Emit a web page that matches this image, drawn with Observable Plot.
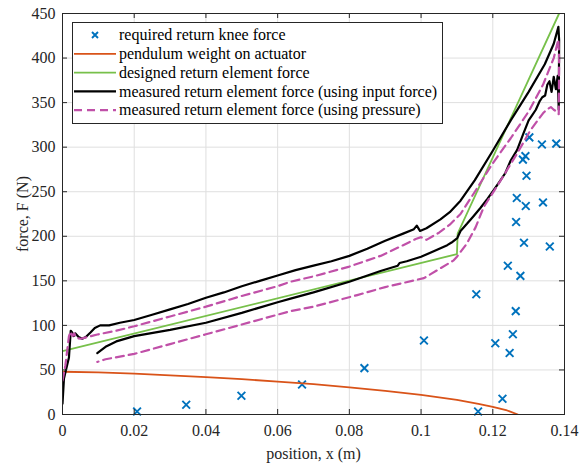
<!DOCTYPE html>
<html>
<head>
<meta charset="utf-8">
<script src="https://cdn.jsdelivr.net/npm/d3@7"></script>
<script src="https://cdn.jsdelivr.net/npm/@observablehq/plot@0.6"></script>
<style>
  body { margin: 0; background: #fff; }
  #wrap { position: relative; width: 579px; height: 466px; font-family: "Liberation Serif", "Times New Roman", serif; }
  #legend { position: absolute; left: 72px; top: 22px; }
</style>
</head>
<body>
<div id="wrap"><div id="chart"></div><div id="legend"></div></div>
<script>
// ---------- data ----------
const xTicks = [0, 0.02, 0.04, 0.06, 0.08, 0.1, 0.12, 0.14];
const yTicks = [0, 50, 100, 150, 200, 250, 300, 350, 400, 450];

const seriesNames = [
  "required return knee force",
  "pendulum weight on actuator",
  "designed return element force",
  "measured return element force (using input force)",
  "measured return element force (using pressure)"
];
const seriesColors = ["#0072BD", "#D95319", "#77C04A", "#000000", "#C050A8"];

// required return knee force (markers)
const reqX = [0.0208, 0.0345, 0.0499, 0.0668, 0.0842, 0.1008, 0.1154, 0.1159, 0.1207, 0.1227, 0.1242, 0.1247, 0.1256, 0.1264, 0.1277, 0.1287, 0.1359, 0.1302, 0.1337, 0.1377, 0.1291, 0.1284, 0.1294, 0.1267, 0.1292, 0.1340, 0.1265];
const reqF = [3.4, 11, 21, 33.7, 52, 83, 135, 3.4, 80, 17.6, 167, 69, 90, 116, 155.6, 192.7, 188.6, 311, 303, 304, 290, 286, 268, 243, 234, 238, 216];

// pendulum weight on actuator
const pendX = [0, 0.01, 0.02, 0.03, 0.04, 0.05, 0.06, 0.07, 0.08, 0.09, 0.1, 0.11, 0.116, 0.12, 0.124, 0.127];
const pendF = [48, 47.2, 45.8, 44, 42, 39.6, 37, 34, 30.5, 26.6, 22, 16.5, 12, 8.5, 4.5, 0];

// designed return element force
const desX = [0, 0.11, 0.1102, 0.1385];
const desF = [71, 180, 203, 450];

// measured (input force): loading then unloading
const inX = [0, 0.0004, 0.0008, 0.0018, 0.0023, 0.0027, 0.0031, 0.0036, 0.0045, 0.0055, 0.0065, 0.0078, 0.009, 0.0105, 0.013, 0.016, 0.02, 0.025, 0.03, 0.035, 0.04, 0.045, 0.05, 0.055, 0.06, 0.065, 0.07, 0.075, 0.08, 0.085, 0.09, 0.095, 0.098, 0.0988, 0.0997, 0.1015, 0.1054, 0.108, 0.111, 0.115, 0.12, 0.125, 0.13, 0.1345, 0.137, 0.1383, 0.1385, 0.1384,
  0.1381, 0.1376, 0.137, 0.1364, 0.1358, 0.1352, 0.1346, 0.1338, 0.133, 0.132, 0.131, 0.13, 0.1285, 0.1268, 0.125, 0.1235, 0.122, 0.1203, 0.1185, 0.1166, 0.1145, 0.1128, 0.111, 0.1101, 0.1085, 0.1073, 0.104, 0.1, 0.096, 0.094, 0.0935, 0.0887, 0.08, 0.07, 0.0636, 0.06, 0.05, 0.04, 0.03, 0.02, 0.015, 0.012, 0.0097];
const inF = [12, 40, 47, 64, 94, 92, 88, 91, 87, 85, 87, 92, 97, 100, 100, 103, 106, 112, 118, 124, 131, 137, 144, 150, 156, 162, 167, 172, 178, 186, 195, 203, 208, 212, 206, 209, 219, 227, 240, 263, 296, 330, 362, 393, 416, 435, 420, 342,
  380, 365, 379, 362, 374, 370, 358, 356, 351, 342, 336, 330, 315, 297, 285, 271, 262, 252, 242, 232, 222, 214, 206, 198, 193, 190, 184, 177, 172, 170, 167, 161, 149, 137, 130, 126, 114, 103, 95, 88, 82, 76, 69];

// measured (pressure): loading then unloading
const prX = [0, 0.0008, 0.0018, 0.0023, 0.0028, 0.0033, 0.0038, 0.005, 0.007, 0.01, 0.015, 0.02, 0.03, 0.04, 0.05, 0.06, 0.0636, 0.07, 0.08, 0.0887, 0.095, 0.0985, 0.1, 0.1015, 0.105, 0.108, 0.111, 0.115, 0.12, 0.125, 0.13, 0.134, 0.137, 0.1383, 0.1385, 0.1384,
  0.1378, 0.137, 0.1362, 0.135, 0.134, 0.1305, 0.1268, 0.1221, 0.1175, 0.1152, 0.1128, 0.11, 0.1091, 0.1008, 0.09, 0.0822, 0.07, 0.0636, 0.05, 0.04, 0.03, 0.02, 0.012, 0.0097];
const prF = [38, 55, 88, 93, 88, 91, 86, 85, 87, 90, 94, 99, 110, 121, 133, 144, 149, 155, 166, 178, 190, 197, 199, 196, 204, 213, 225, 250, 282, 310, 340, 370, 400, 421, 400, 337,
  340, 342, 345, 342, 338, 319, 293, 262, 233, 210, 192, 177, 173, 153, 143, 134, 121, 116, 101, 90, 79, 68, 62, 59];

// ---------- build tables ----------
const zip = (xs, ys) => xs.map((x, i) => ({x, y: ys[i]}));
const req = zip(reqX, reqF);
const pend = zip(pendX, pendF);
const des = zip(desX, desF);
const inp = zip(inX, inF);
const pre = zip(prX, prF);

const W = 579, H = 466, mL = 62, mR = 15, mT = 13, mB = 52;
const frameH = H - mT - mB, frameW = W - mL - mR;
const axisCol = "#262626";
const gridCol = "#dfdfdf";
const tick = 5;

const chart = Plot.plot({
  width: W, height: H,
  marginLeft: mL, marginRight: mR, marginTop: mT, marginBottom: mB,
  style: {fontFamily: '"Liberation Serif", "Times New Roman", serif', fontSize: "16px", color: axisCol, background: "#fff"},
  x: {domain: [0, 0.14], ticks: xTicks},
  y: {domain: [0, 450], ticks: yTicks},
  marks: [
    Plot.gridX(xTicks, {stroke: gridCol, strokeOpacity: 1}),
    Plot.gridY(yTicks, {stroke: gridCol, strokeOpacity: 1}),
    Plot.dot(req, {x: "x", y: "y", symbol: "times", r: 3.6, stroke: seriesColors[0], strokeWidth: 1.9}),
    Plot.line(pend, {x: "x", y: "y", stroke: seriesColors[1], strokeWidth: 1.8, clip: true}),
    Plot.line(des, {x: "x", y: "y", stroke: seriesColors[2], strokeWidth: 1.8, clip: true}),
    Plot.line(inp, {x: "x", y: "y", stroke: seriesColors[3], strokeWidth: 2.2, clip: true, curve: "linear"}),
    Plot.line(pre, {x: "x", y: "y", stroke: seriesColors[4], strokeWidth: 2.2, strokeDasharray: "8,5", clip: true}),
    // inward tick marks on all four sides
    Plot.ruleX(xTicks, {x: d => d, stroke: axisCol, insetTop: frameH - tick}),
    Plot.ruleX(xTicks, {x: d => d, stroke: axisCol, insetBottom: frameH - tick}),
    Plot.ruleY(yTicks, {y: d => d, stroke: axisCol, insetRight: frameW - tick}),
    Plot.ruleY(yTicks, {y: d => d, stroke: axisCol, insetLeft: frameW - tick}),
    Plot.frame({stroke: axisCol, strokeWidth: 1}),
    Plot.axisX(xTicks, {tickSize: 0, tickPadding: 10, tickFormat: d => String(d), fill: axisCol,
      label: "position, x (m)", labelAnchor: "center", labelArrow: "none", labelOffset: 44}),
    Plot.axisY(yTicks, {tickSize: 0, tickPadding: 7, tickFormat: d => String(d), fill: axisCol,
      label: "force, F (N)", labelAnchor: "center", labelArrow: "none", labelOffset: 46})
  ]
});
document.getElementById("chart").appendChild(chart);

// ---------- legend (inside plot area, top-left) ----------
const lgW = 370, lgH = 101, rowH = 18.8, row0 = 13;
const lg = d3.select("#legend").append("svg").attr("width", lgW + 1).attr("height", lgH + 1)
  .style("font-family", '"Liberation Serif", "Times New Roman", serif').style("font-size", "16px");
lg.append("rect").attr("x", 0.5).attr("y", 0.5).attr("width", lgW).attr("height", lgH)
  .attr("fill", "#fff").attr("stroke", axisCol);
seriesNames.forEach((name, i) => {
  const y = row0 + i * rowH;
  const g = lg.append("g").attr("transform", `translate(0,${y})`);
  if (i === 0) {
    const cx = 23, s = 3;
    g.append("path").attr("d", `M${cx - s},${-s}L${cx + s},${s}M${cx - s},${s}L${cx + s},${-s}`)
      .attr("stroke", seriesColors[0]).attr("stroke-width", 1.9);
  } else {
    const l = g.append("line").attr("x1", 2).attr("x2", 44).attr("y1", 0).attr("y2", 0)
      .attr("stroke", seriesColors[i]).attr("stroke-width", i >= 3 ? 2.2 : 1.8);
    if (i === 4) l.attr("stroke-dasharray", "8,5");
  }
  g.append("text").attr("x", 47).attr("y", 0).attr("dy", "0.32em").attr("fill", "#000").text(name);
});
</script>
</body>
</html>
